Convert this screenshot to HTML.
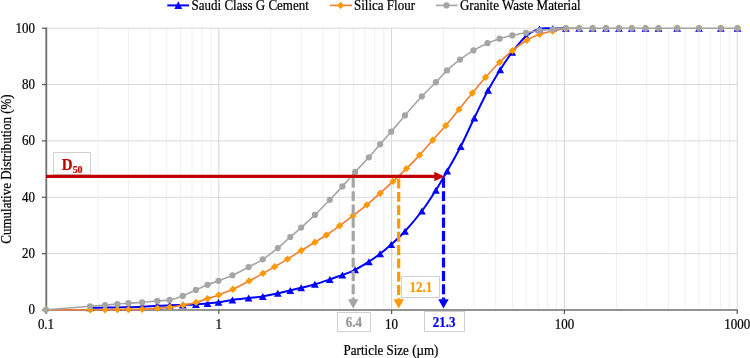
<!DOCTYPE html>
<html><head><meta charset="utf-8"><style>
html,body{margin:0;padding:0;background:#fff;}
body{width:750px;height:358px;overflow:hidden;position:relative;}
svg{position:absolute;left:0;top:0;}
text{font-family:"Liberation Serif",serif;}
svg{will-change:transform;}
</style></head><body>
<svg width="750" height="358" viewBox="0 0 750 358">

<line x1="98.02" y1="28.20" x2="98.02" y2="310.00" stroke="#f0f0f0" stroke-width="1"/>
<line x1="128.45" y1="28.20" x2="128.45" y2="310.00" stroke="#f0f0f0" stroke-width="1"/>
<line x1="150.04" y1="28.20" x2="150.04" y2="310.00" stroke="#f0f0f0" stroke-width="1"/>
<line x1="166.78" y1="28.20" x2="166.78" y2="310.00" stroke="#f0f0f0" stroke-width="1"/>
<line x1="180.46" y1="28.20" x2="180.46" y2="310.00" stroke="#f0f0f0" stroke-width="1"/>
<line x1="192.03" y1="28.20" x2="192.03" y2="310.00" stroke="#f0f0f0" stroke-width="1"/>
<line x1="202.05" y1="28.20" x2="202.05" y2="310.00" stroke="#f0f0f0" stroke-width="1"/>
<line x1="210.89" y1="28.20" x2="210.89" y2="310.00" stroke="#f0f0f0" stroke-width="1"/>
<line x1="270.82" y1="28.20" x2="270.82" y2="310.00" stroke="#f0f0f0" stroke-width="1"/>
<line x1="301.25" y1="28.20" x2="301.25" y2="310.00" stroke="#f0f0f0" stroke-width="1"/>
<line x1="322.84" y1="28.20" x2="322.84" y2="310.00" stroke="#f0f0f0" stroke-width="1"/>
<line x1="339.58" y1="28.20" x2="339.58" y2="310.00" stroke="#f0f0f0" stroke-width="1"/>
<line x1="353.26" y1="28.20" x2="353.26" y2="310.00" stroke="#f0f0f0" stroke-width="1"/>
<line x1="364.83" y1="28.20" x2="364.83" y2="310.00" stroke="#f0f0f0" stroke-width="1"/>
<line x1="374.85" y1="28.20" x2="374.85" y2="310.00" stroke="#f0f0f0" stroke-width="1"/>
<line x1="383.69" y1="28.20" x2="383.69" y2="310.00" stroke="#f0f0f0" stroke-width="1"/>
<line x1="443.62" y1="28.20" x2="443.62" y2="310.00" stroke="#f0f0f0" stroke-width="1"/>
<line x1="474.05" y1="28.20" x2="474.05" y2="310.00" stroke="#f0f0f0" stroke-width="1"/>
<line x1="495.64" y1="28.20" x2="495.64" y2="310.00" stroke="#f0f0f0" stroke-width="1"/>
<line x1="512.38" y1="28.20" x2="512.38" y2="310.00" stroke="#f0f0f0" stroke-width="1"/>
<line x1="526.06" y1="28.20" x2="526.06" y2="310.00" stroke="#f0f0f0" stroke-width="1"/>
<line x1="537.63" y1="28.20" x2="537.63" y2="310.00" stroke="#f0f0f0" stroke-width="1"/>
<line x1="547.65" y1="28.20" x2="547.65" y2="310.00" stroke="#f0f0f0" stroke-width="1"/>
<line x1="556.49" y1="28.20" x2="556.49" y2="310.00" stroke="#f0f0f0" stroke-width="1"/>
<line x1="616.42" y1="28.20" x2="616.42" y2="310.00" stroke="#f0f0f0" stroke-width="1"/>
<line x1="646.85" y1="28.20" x2="646.85" y2="310.00" stroke="#f0f0f0" stroke-width="1"/>
<line x1="668.44" y1="28.20" x2="668.44" y2="310.00" stroke="#f0f0f0" stroke-width="1"/>
<line x1="685.18" y1="28.20" x2="685.18" y2="310.00" stroke="#f0f0f0" stroke-width="1"/>
<line x1="698.86" y1="28.20" x2="698.86" y2="310.00" stroke="#f0f0f0" stroke-width="1"/>
<line x1="710.43" y1="28.20" x2="710.43" y2="310.00" stroke="#f0f0f0" stroke-width="1"/>
<line x1="720.45" y1="28.20" x2="720.45" y2="310.00" stroke="#f0f0f0" stroke-width="1"/>
<line x1="729.29" y1="28.20" x2="729.29" y2="310.00" stroke="#f0f0f0" stroke-width="1"/>
<line x1="218.80" y1="28.20" x2="218.80" y2="310.00" stroke="#d4d4d4" stroke-width="1"/>
<line x1="391.60" y1="28.20" x2="391.60" y2="310.00" stroke="#d4d4d4" stroke-width="1"/>
<line x1="564.40" y1="28.20" x2="564.40" y2="310.00" stroke="#d4d4d4" stroke-width="1"/>
<line x1="737.20" y1="28.20" x2="737.20" y2="310.00" stroke="#d4d4d4" stroke-width="1"/>
<line x1="46.00" y1="253.64" x2="737.20" y2="253.64" stroke="#d9d9d9" stroke-width="1"/>
<line x1="46.00" y1="197.28" x2="737.20" y2="197.28" stroke="#d9d9d9" stroke-width="1"/>
<line x1="46.00" y1="140.92" x2="737.20" y2="140.92" stroke="#d9d9d9" stroke-width="1"/>
<line x1="46.00" y1="84.56" x2="737.20" y2="84.56" stroke="#d9d9d9" stroke-width="1"/>
<line x1="46.00" y1="28.20" x2="737.20" y2="28.20" stroke="#d9d9d9" stroke-width="1"/>
<line x1="46.30" y1="27.60" x2="46.30" y2="310.00" stroke="#6e6e6e" stroke-width="1.8"/>
<line x1="46.00" y1="310.00" x2="737.70" y2="310.00" stroke="#939393" stroke-width="2.2"/>
<line x1="42.00" y1="310.00" x2="46.00" y2="310.00" stroke="#555" stroke-width="1.2"/>
<text x="35.00" y="314.50" font-size="13" text-anchor="end" fill="#000" stroke="#000" stroke-width="0.22" transform="translate(0 314.50) scale(1 1.08) translate(0 -314.50)">0</text>
<line x1="42.00" y1="253.64" x2="46.00" y2="253.64" stroke="#555" stroke-width="1.2"/>
<text x="35.00" y="258.14" font-size="13" text-anchor="end" fill="#000" stroke="#000" stroke-width="0.22" transform="translate(0 258.14) scale(1 1.08) translate(0 -258.14)">20</text>
<line x1="42.00" y1="197.28" x2="46.00" y2="197.28" stroke="#555" stroke-width="1.2"/>
<text x="35.00" y="201.78" font-size="13" text-anchor="end" fill="#000" stroke="#000" stroke-width="0.22" transform="translate(0 201.78) scale(1 1.08) translate(0 -201.78)">40</text>
<line x1="42.00" y1="140.92" x2="46.00" y2="140.92" stroke="#555" stroke-width="1.2"/>
<text x="35.00" y="145.42" font-size="13" text-anchor="end" fill="#000" stroke="#000" stroke-width="0.22" transform="translate(0 145.42) scale(1 1.08) translate(0 -145.42)">60</text>
<line x1="42.00" y1="84.56" x2="46.00" y2="84.56" stroke="#555" stroke-width="1.2"/>
<text x="35.00" y="89.06" font-size="13" text-anchor="end" fill="#000" stroke="#000" stroke-width="0.22" transform="translate(0 89.06) scale(1 1.08) translate(0 -89.06)">80</text>
<line x1="42.00" y1="28.20" x2="46.00" y2="28.20" stroke="#555" stroke-width="1.2"/>
<text x="35.00" y="32.70" font-size="13" text-anchor="end" fill="#000" stroke="#000" stroke-width="0.22" transform="translate(0 32.70) scale(1 1.08) translate(0 -32.70)">100</text>
<line x1="46.00" y1="310.00" x2="46.00" y2="314.00" stroke="#555" stroke-width="1.2"/>
<text x="46.00" y="329.40" font-size="13" text-anchor="middle" fill="#000" stroke="#000" stroke-width="0.22" transform="translate(0 329.40) scale(1 1.08) translate(0 -329.40)">0.1</text>
<line x1="218.80" y1="310.00" x2="218.80" y2="314.00" stroke="#555" stroke-width="1.2"/>
<text x="218.80" y="329.40" font-size="13" text-anchor="middle" fill="#000" stroke="#000" stroke-width="0.22" transform="translate(0 329.40) scale(1 1.08) translate(0 -329.40)">1</text>
<line x1="391.60" y1="310.00" x2="391.60" y2="314.00" stroke="#555" stroke-width="1.2"/>
<text x="391.60" y="329.40" font-size="13" text-anchor="middle" fill="#000" stroke="#000" stroke-width="0.22" transform="translate(0 329.40) scale(1 1.08) translate(0 -329.40)">10</text>
<line x1="564.40" y1="310.00" x2="564.40" y2="314.00" stroke="#555" stroke-width="1.2"/>
<text x="564.40" y="329.40" font-size="13" text-anchor="middle" fill="#000" stroke="#000" stroke-width="0.22" transform="translate(0 329.40) scale(1 1.08) translate(0 -329.40)">100</text>
<line x1="737.20" y1="310.00" x2="737.20" y2="314.00" stroke="#555" stroke-width="1.2"/>
<text x="737.20" y="329.40" font-size="13" text-anchor="middle" fill="#000" stroke="#000" stroke-width="0.22" transform="translate(0 329.40) scale(1 1.08) translate(0 -329.40)">1000</text>
<text x="391" y="355" font-size="13" text-anchor="middle" fill="#000" stroke="#000" stroke-width="0.22" transform="translate(0 355.00) scale(1 1.08) translate(0 -355.00)">Particle Size (µm)</text>
<text transform="translate(10.8,169) rotate(-90) scale(1,1.08)" x="0" y="0" font-size="13" text-anchor="middle" fill="#000" stroke="#000" stroke-width="0.22">Cumulative Distribution (%)</text>
<path d="M90.10 307.80C92.60 307.77 100.55 307.67 105.10 307.60C109.65 307.53 113.52 307.47 117.40 307.40C121.28 307.33 124.28 307.30 128.40 307.20C132.52 307.10 137.28 307.03 142.10 306.80C146.92 306.57 152.70 306.05 157.30 305.80C161.90 305.55 165.45 305.45 169.70 305.30C173.95 305.15 178.43 305.05 182.80 304.90C187.17 304.75 191.78 304.63 195.90 304.40C200.02 304.17 203.73 303.85 207.50 303.50C211.27 303.15 214.35 302.90 218.50 302.30C222.65 301.70 227.38 300.62 232.40 299.90C237.42 299.18 243.53 298.58 248.60 298.00C253.67 297.42 257.93 297.20 262.80 296.40C267.67 295.60 273.22 294.18 277.80 293.20C282.38 292.22 286.40 291.40 290.30 290.50C294.20 289.60 297.10 288.83 301.20 287.80C305.30 286.77 310.13 285.70 314.90 284.30C319.67 282.90 325.22 280.95 329.80 279.40C334.38 277.85 338.18 276.60 342.40 275.00C346.62 273.40 350.68 272.02 355.10 269.80C359.52 267.58 364.73 264.37 368.90 261.70C373.07 259.03 376.38 256.67 380.10 253.80C383.82 250.93 387.05 248.27 391.20 244.50C395.35 240.73 399.88 236.78 405.00 231.20C410.12 225.62 416.75 217.83 421.90 211.00C427.05 204.17 431.68 196.87 435.90 190.20C440.12 183.53 443.07 178.28 447.20 171.00C451.33 163.72 456.18 155.33 460.70 146.50C465.22 137.67 469.73 127.37 474.30 118.00C478.87 108.63 483.78 98.35 488.10 90.30C492.42 82.25 496.18 76.05 500.20 69.70C504.22 63.35 507.90 57.77 512.20 52.20C516.50 46.63 521.47 40.18 526.00 36.30C530.53 32.42 534.93 30.20 539.40 28.90C543.87 27.60 548.40 28.62 552.80 28.50C557.20 28.38 563.63 28.25 565.80 28.20" fill="none" stroke="#0000ff" stroke-width="2" stroke-linejoin="round"/>
<g fill="#0000ff"><path d="M90.10 304.30L94.00 311.30L86.20 311.30Z"/><path d="M105.10 304.10L109.00 311.10L101.20 311.10Z"/><path d="M117.40 303.90L121.30 310.90L113.50 310.90Z"/><path d="M128.40 303.70L132.30 310.70L124.50 310.70Z"/><path d="M142.10 303.30L146.00 310.30L138.20 310.30Z"/><path d="M157.30 302.30L161.20 309.30L153.40 309.30Z"/><path d="M169.70 301.80L173.60 308.80L165.80 308.80Z"/><path d="M182.80 301.40L186.70 308.40L178.90 308.40Z"/><path d="M195.90 300.90L199.80 307.90L192.00 307.90Z"/><path d="M207.50 300.00L211.40 307.00L203.60 307.00Z"/><path d="M218.50 298.80L222.40 305.80L214.60 305.80Z"/><path d="M232.40 296.40L236.30 303.40L228.50 303.40Z"/><path d="M248.60 294.50L252.50 301.50L244.70 301.50Z"/><path d="M262.80 292.90L266.70 299.90L258.90 299.90Z"/><path d="M277.80 289.70L281.70 296.70L273.90 296.70Z"/><path d="M290.30 287.00L294.20 294.00L286.40 294.00Z"/><path d="M301.20 284.30L305.10 291.30L297.30 291.30Z"/><path d="M314.90 280.80L318.80 287.80L311.00 287.80Z"/><path d="M329.80 275.90L333.70 282.90L325.90 282.90Z"/><path d="M342.40 271.50L346.30 278.50L338.50 278.50Z"/><path d="M355.10 266.30L359.00 273.30L351.20 273.30Z"/><path d="M368.90 258.20L372.80 265.20L365.00 265.20Z"/><path d="M380.10 250.30L384.00 257.30L376.20 257.30Z"/><path d="M391.20 241.00L395.10 248.00L387.30 248.00Z"/><path d="M405.00 227.70L408.90 234.70L401.10 234.70Z"/><path d="M421.90 207.50L425.80 214.50L418.00 214.50Z"/><path d="M435.90 186.70L439.80 193.70L432.00 193.70Z"/><path d="M447.20 167.50L451.10 174.50L443.30 174.50Z"/><path d="M460.70 143.00L464.60 150.00L456.80 150.00Z"/><path d="M474.30 114.50L478.20 121.50L470.40 121.50Z"/><path d="M488.10 86.80L492.00 93.80L484.20 93.80Z"/><path d="M500.20 66.20L504.10 73.20L496.30 73.20Z"/><path d="M512.20 48.70L516.10 55.70L508.30 55.70Z"/><path d="M526.00 32.80L529.90 39.80L522.10 39.80Z"/><path d="M539.40 25.40L543.30 32.40L535.50 32.40Z"/><path d="M552.80 25.00L556.70 32.00L548.90 32.00Z"/><path d="M565.80 24.70L569.70 31.70L561.90 31.70Z"/><path d="M579.20 24.70L583.10 31.70L575.30 31.70Z"/><path d="M592.60 24.70L596.50 31.70L588.70 31.70Z"/><path d="M606.00 24.70L609.90 31.70L602.10 31.70Z"/><path d="M618.90 24.70L622.80 31.70L615.00 31.70Z"/><path d="M631.80 24.70L635.70 31.70L627.90 31.70Z"/><path d="M645.50 24.70L649.40 31.70L641.60 31.70Z"/><path d="M658.50 24.70L662.40 31.70L654.60 31.70Z"/><path d="M677.20 24.70L681.10 31.70L673.30 31.70Z"/><path d="M699.00 24.70L702.90 31.70L695.10 31.70Z"/><path d="M720.80 24.70L724.70 31.70L716.90 31.70Z"/><path d="M737.50 24.70L741.40 31.70L733.60 31.70Z"/></g>
<path d="M46.00 309.80C53.35 309.80 80.25 309.82 90.10 309.80C99.95 309.78 100.55 309.73 105.10 309.70C109.65 309.67 113.52 309.63 117.40 309.60C121.28 309.57 124.28 309.55 128.40 309.50C132.52 309.45 137.27 309.50 142.10 309.30C146.93 309.10 152.78 308.65 157.40 308.30C162.02 307.95 165.53 307.73 169.80 307.20C174.07 306.67 178.62 305.90 183.00 305.10C187.38 304.30 192.00 303.48 196.10 302.40C200.20 301.32 203.83 299.85 207.60 298.60C211.37 297.35 214.48 296.45 218.70 294.90C222.92 293.35 227.82 291.63 232.90 289.30C237.98 286.97 244.18 283.55 249.20 280.90C254.22 278.25 258.77 275.77 263.00 273.40C267.23 271.03 270.52 269.08 274.60 266.70C278.68 264.32 283.05 261.80 287.50 259.10C291.95 256.40 296.72 253.32 301.30 250.50C305.88 247.68 310.82 244.78 315.00 242.20C319.18 239.62 322.30 237.73 326.40 235.00C330.50 232.27 335.20 228.98 339.60 225.80C344.00 222.62 348.27 219.38 352.80 215.90C357.33 212.42 362.23 208.68 366.80 204.90C371.37 201.12 375.83 197.12 380.20 193.20C384.57 189.28 388.62 185.50 393.00 181.40C397.38 177.30 402.07 172.98 406.50 168.60C410.93 164.22 415.22 159.85 419.60 155.10C423.98 150.35 428.43 145.03 432.80 140.10C437.17 135.17 441.43 130.62 445.80 125.50C450.17 120.38 454.57 114.82 459.00 109.40C463.43 103.98 467.97 98.35 472.40 93.00C476.83 87.65 481.07 82.42 485.60 77.30C490.13 72.18 495.13 66.75 499.60 62.30C504.07 57.85 507.87 54.28 512.40 50.60C516.93 46.92 522.25 42.93 526.80 40.20C531.35 37.47 535.38 35.73 539.70 34.20C544.02 32.67 548.32 31.92 552.70 31.00C557.08 30.08 561.58 29.17 566.00 28.70C570.42 28.23 577.00 28.28 579.20 28.20" fill="none" stroke="#ed7d31" stroke-width="1.6" stroke-linejoin="round"/>
<g fill="#ff9900"><path d="M46.00 306.10L49.70 309.80L46.00 313.50L42.30 309.80Z"/><path d="M90.10 306.10L93.80 309.80L90.10 313.50L86.40 309.80Z"/><path d="M105.10 306.00L108.80 309.70L105.10 313.40L101.40 309.70Z"/><path d="M117.40 305.90L121.10 309.60L117.40 313.30L113.70 309.60Z"/><path d="M128.40 305.80L132.10 309.50L128.40 313.20L124.70 309.50Z"/><path d="M142.10 305.60L145.80 309.30L142.10 313.00L138.40 309.30Z"/><path d="M157.40 304.60L161.10 308.30L157.40 312.00L153.70 308.30Z"/><path d="M169.80 303.50L173.50 307.20L169.80 310.90L166.10 307.20Z"/><path d="M183.00 301.40L186.70 305.10L183.00 308.80L179.30 305.10Z"/><path d="M196.10 298.70L199.80 302.40L196.10 306.10L192.40 302.40Z"/><path d="M207.60 294.90L211.30 298.60L207.60 302.30L203.90 298.60Z"/><path d="M218.70 291.20L222.40 294.90L218.70 298.60L215.00 294.90Z"/><path d="M232.90 285.60L236.60 289.30L232.90 293.00L229.20 289.30Z"/><path d="M249.20 277.20L252.90 280.90L249.20 284.60L245.50 280.90Z"/><path d="M263.00 269.70L266.70 273.40L263.00 277.10L259.30 273.40Z"/><path d="M274.60 263.00L278.30 266.70L274.60 270.40L270.90 266.70Z"/><path d="M287.50 255.40L291.20 259.10L287.50 262.80L283.80 259.10Z"/><path d="M301.30 246.80L305.00 250.50L301.30 254.20L297.60 250.50Z"/><path d="M315.00 238.50L318.70 242.20L315.00 245.90L311.30 242.20Z"/><path d="M326.40 231.30L330.10 235.00L326.40 238.70L322.70 235.00Z"/><path d="M339.60 222.10L343.30 225.80L339.60 229.50L335.90 225.80Z"/><path d="M352.80 212.20L356.50 215.90L352.80 219.60L349.10 215.90Z"/><path d="M366.80 201.20L370.50 204.90L366.80 208.60L363.10 204.90Z"/><path d="M380.20 189.50L383.90 193.20L380.20 196.90L376.50 193.20Z"/><path d="M393.00 177.70L396.70 181.40L393.00 185.10L389.30 181.40Z"/><path d="M406.50 164.90L410.20 168.60L406.50 172.30L402.80 168.60Z"/><path d="M419.60 151.40L423.30 155.10L419.60 158.80L415.90 155.10Z"/><path d="M432.80 136.40L436.50 140.10L432.80 143.80L429.10 140.10Z"/><path d="M445.80 121.80L449.50 125.50L445.80 129.20L442.10 125.50Z"/><path d="M459.00 105.70L462.70 109.40L459.00 113.10L455.30 109.40Z"/><path d="M472.40 89.30L476.10 93.00L472.40 96.70L468.70 93.00Z"/><path d="M485.60 73.60L489.30 77.30L485.60 81.00L481.90 77.30Z"/><path d="M499.60 58.60L503.30 62.30L499.60 66.00L495.90 62.30Z"/><path d="M512.40 46.90L516.10 50.60L512.40 54.30L508.70 50.60Z"/><path d="M526.80 36.50L530.50 40.20L526.80 43.90L523.10 40.20Z"/><path d="M539.70 30.50L543.40 34.20L539.70 37.90L536.00 34.20Z"/><path d="M552.70 27.30L556.40 31.00L552.70 34.70L549.00 31.00Z"/><path d="M566.00 25.00L569.70 28.70L566.00 32.40L562.30 28.70Z"/><path d="M579.20 24.50L582.90 28.20L579.20 31.90L575.50 28.20Z"/><path d="M592.60 24.50L596.30 28.20L592.60 31.90L588.90 28.20Z"/><path d="M606.00 24.50L609.70 28.20L606.00 31.90L602.30 28.20Z"/><path d="M618.90 24.50L622.60 28.20L618.90 31.90L615.20 28.20Z"/><path d="M631.80 24.50L635.50 28.20L631.80 31.90L628.10 28.20Z"/><path d="M645.50 24.50L649.20 28.20L645.50 31.90L641.80 28.20Z"/><path d="M658.50 24.50L662.20 28.20L658.50 31.90L654.80 28.20Z"/><path d="M677.20 24.50L680.90 28.20L677.20 31.90L673.50 28.20Z"/><path d="M699.00 24.50L702.70 28.20L699.00 31.90L695.30 28.20Z"/><path d="M720.80 24.50L724.50 28.20L720.80 31.90L717.10 28.20Z"/><path d="M737.50 24.50L741.20 28.20L737.50 31.90L733.80 28.20Z"/></g>
<path d="M46.00 309.80C53.35 309.22 80.25 307.08 90.10 306.30C99.95 305.52 100.55 305.47 105.10 305.10C109.65 304.73 113.52 304.42 117.40 304.10C121.28 303.78 124.28 303.48 128.40 303.20C132.52 302.92 137.28 302.78 142.10 302.40C146.92 302.02 152.70 301.32 157.30 300.90C161.90 300.48 165.45 300.73 169.70 299.90C173.95 299.07 178.43 297.57 182.80 295.90C187.17 294.23 191.78 291.75 195.90 289.90C200.02 288.05 203.73 286.32 207.50 284.80C211.27 283.28 214.35 282.38 218.50 280.80C222.65 279.22 227.38 277.58 232.40 275.30C237.42 273.02 243.53 269.77 248.60 267.10C253.67 264.43 257.93 262.47 262.80 259.30C267.67 256.13 273.22 251.82 277.80 248.10C282.38 244.38 286.40 240.42 290.30 237.00C294.20 233.58 297.10 231.28 301.20 227.60C305.30 223.92 310.13 219.53 314.90 214.90C319.67 210.27 325.22 204.55 329.80 199.80C334.38 195.05 338.18 191.05 342.40 186.40C346.62 181.75 350.68 176.75 355.10 171.90C359.52 167.05 364.73 161.90 368.90 157.30C373.07 152.70 376.38 148.57 380.10 144.30C383.82 140.03 387.05 136.52 391.20 131.70C395.35 126.88 399.88 121.30 405.00 115.40C410.12 109.50 416.75 101.83 421.90 96.30C427.05 90.77 431.72 86.52 435.90 82.20C440.08 77.88 442.98 74.17 447.00 70.40C451.02 66.63 455.58 62.93 460.00 59.60C464.42 56.27 468.92 53.13 473.50 50.40C478.08 47.67 483.15 45.15 487.50 43.20C491.85 41.25 495.47 40.00 499.60 38.70C503.73 37.40 507.90 36.38 512.30 35.40C516.70 34.42 521.48 33.62 526.00 32.80C530.52 31.98 534.93 31.07 539.40 30.50C543.87 29.93 548.40 29.78 552.80 29.40C557.20 29.02 561.40 28.40 565.80 28.20C570.20 28.00 574.73 28.20 579.20 28.20C583.67 28.20 588.13 28.20 592.60 28.20C597.07 28.20 601.62 28.20 606.00 28.20C610.38 28.20 614.60 28.20 618.90 28.20C623.20 28.20 627.37 28.20 631.80 28.20C636.23 28.20 641.05 28.20 645.50 28.20C649.95 28.20 653.22 28.20 658.50 28.20C663.78 28.20 670.45 28.20 677.20 28.20C683.95 28.20 691.73 28.20 699.00 28.20C706.27 28.20 714.38 28.20 720.80 28.20C727.22 28.20 734.72 28.20 737.50 28.20" fill="none" stroke="#a5a5a5" stroke-width="1.6" stroke-linejoin="round"/>
<g fill="#a5a5a5"><circle cx="46.00" cy="309.80" r="3.1"/><circle cx="90.10" cy="306.30" r="3.1"/><circle cx="105.10" cy="305.10" r="3.1"/><circle cx="117.40" cy="304.10" r="3.1"/><circle cx="128.40" cy="303.20" r="3.1"/><circle cx="142.10" cy="302.40" r="3.1"/><circle cx="157.30" cy="300.90" r="3.1"/><circle cx="169.70" cy="299.90" r="3.1"/><circle cx="182.80" cy="295.90" r="3.1"/><circle cx="195.90" cy="289.90" r="3.1"/><circle cx="207.50" cy="284.80" r="3.1"/><circle cx="218.50" cy="280.80" r="3.1"/><circle cx="232.40" cy="275.30" r="3.1"/><circle cx="248.60" cy="267.10" r="3.1"/><circle cx="262.80" cy="259.30" r="3.1"/><circle cx="277.80" cy="248.10" r="3.1"/><circle cx="290.30" cy="237.00" r="3.1"/><circle cx="301.20" cy="227.60" r="3.1"/><circle cx="314.90" cy="214.90" r="3.1"/><circle cx="329.80" cy="199.80" r="3.1"/><circle cx="342.40" cy="186.40" r="3.1"/><circle cx="355.10" cy="171.90" r="3.1"/><circle cx="368.90" cy="157.30" r="3.1"/><circle cx="380.10" cy="144.30" r="3.1"/><circle cx="391.20" cy="131.70" r="3.1"/><circle cx="405.00" cy="115.40" r="3.1"/><circle cx="421.90" cy="96.30" r="3.1"/><circle cx="435.90" cy="82.20" r="3.1"/><circle cx="447.00" cy="70.40" r="3.1"/><circle cx="460.00" cy="59.60" r="3.1"/><circle cx="473.50" cy="50.40" r="3.1"/><circle cx="487.50" cy="43.20" r="3.1"/><circle cx="499.60" cy="38.70" r="3.1"/><circle cx="512.30" cy="35.40" r="3.1"/><circle cx="526.00" cy="32.80" r="3.1"/><circle cx="539.40" cy="30.50" r="3.1"/><circle cx="552.80" cy="29.40" r="3.1"/><circle cx="565.80" cy="28.20" r="3.1"/><circle cx="579.20" cy="28.20" r="3.1"/><circle cx="592.60" cy="28.20" r="3.1"/><circle cx="606.00" cy="28.20" r="3.1"/><circle cx="618.90" cy="28.20" r="3.1"/><circle cx="631.80" cy="28.20" r="3.1"/><circle cx="645.50" cy="28.20" r="3.1"/><circle cx="658.50" cy="28.20" r="3.1"/><circle cx="677.20" cy="28.20" r="3.1"/><circle cx="699.00" cy="28.20" r="3.1"/><circle cx="720.80" cy="28.20" r="3.1"/><circle cx="737.50" cy="28.20" r="3.1"/></g>
<line x1="353.2" y1="177.9" x2="353.2" y2="299.5" stroke="#a5a5a5" stroke-width="3.2" stroke-dasharray="9.9 3.4"/><path d="M348.00 299.2L358.40 299.2L353.20 308.4Z" fill="#a5a5a5"/>
<line x1="398.7" y1="178.6" x2="398.7" y2="299.5" stroke="#ff9900" stroke-width="3.2" stroke-dasharray="9.9 3.4"/><path d="M393.50 299.2L403.90 299.2L398.70 308.4Z" fill="#ff9900"/>
<line x1="443.5" y1="177.9" x2="443.5" y2="299.5" stroke="#0000ff" stroke-width="3.2" stroke-dasharray="9.9 3.4"/><path d="M438.30 299.2L448.70 299.2L443.50 308.4Z" fill="#0000ff"/>
<rect x="53.5" y="152.5" width="37" height="22" fill="#fff" stroke="#d0d0d0" stroke-width="1"/>
<line x1="46.0" y1="176.4" x2="435" y2="176.4" stroke="#c00000" stroke-width="3.3"/>
<path d="M434.3 171.7L444.6 176.4L434.3 181.2Z" fill="#c00000"/>
<text x="61.8" y="169.7" font-size="15" font-weight="bold" fill="#c00000" stroke="#c00000" stroke-width="0.22" transform="translate(0 169.70) scale(1 1.08) translate(0 -169.70)">D<tspan font-size="10" dy="3.2">50</tspan></text>
<rect x="337.5" y="312.5" width="33" height="19" fill="#fff" stroke="#d0d0d0" stroke-width="1"/>
<text x="353.8" y="327.4" font-size="13" font-weight="bold" text-anchor="middle" fill="#999999" stroke="#999999" stroke-width="0.22" transform="translate(0 327.40) scale(1 1.08) translate(0 -327.40)">6.4</text>
<rect x="401.5" y="276.5" width="38" height="21" fill="#fff" stroke="#d0d0d0" stroke-width="1"/>
<text x="420.8" y="292" font-size="13" font-weight="bold" text-anchor="middle" fill="#ff9900" stroke="#ff9900" stroke-width="0.22" transform="translate(0 292.00) scale(1 1.08) translate(0 -292.00)">12.1</text>
<rect x="424.5" y="311.5" width="40" height="20" fill="#fff" stroke="#d0d0d0" stroke-width="1"/>
<text x="444.1" y="327.1" font-size="13" font-weight="bold" text-anchor="middle" fill="#0000ff" stroke="#0000ff" stroke-width="0.22" transform="translate(0 327.10) scale(1 1.08) translate(0 -327.10)">21.3</text>
<line x1="167.3" y1="5.4" x2="189" y2="5.4" stroke="#0000ff" stroke-width="2"/>
<g fill="#0000ff"><path d="M178.30 1.30L182.20 8.90L174.40 8.90Z"/></g>
<text x="191.6" y="9.5" font-size="13" fill="#000" stroke="#000" stroke-width="0.22" transform="translate(0 9.50) scale(1 1.08) translate(0 -9.50)">Saudi Class G Cement</text>
<line x1="330" y1="5.4" x2="352" y2="5.4" stroke="#ed7d31" stroke-width="1.6"/>
<g fill="#ff9900"><path d="M340.60 1.70L344.30 5.40L340.60 9.10L336.90 5.40Z"/></g>
<text x="354" y="9.5" font-size="13" fill="#000" stroke="#000" stroke-width="0.22" transform="translate(0 9.50) scale(1 1.08) translate(0 -9.50)">Silica Flour</text>
<line x1="436" y1="5.4" x2="457.6" y2="5.4" stroke="#a5a5a5" stroke-width="1.6"/>
<g fill="#a5a5a5"><circle cx="446.50" cy="5.40" r="3.1"/></g>
<text x="460" y="9.5" font-size="13" fill="#000" stroke="#000" stroke-width="0.22" transform="translate(0 9.50) scale(1 1.08) translate(0 -9.50)">Granite Waste Material</text>
</svg></body></html>
